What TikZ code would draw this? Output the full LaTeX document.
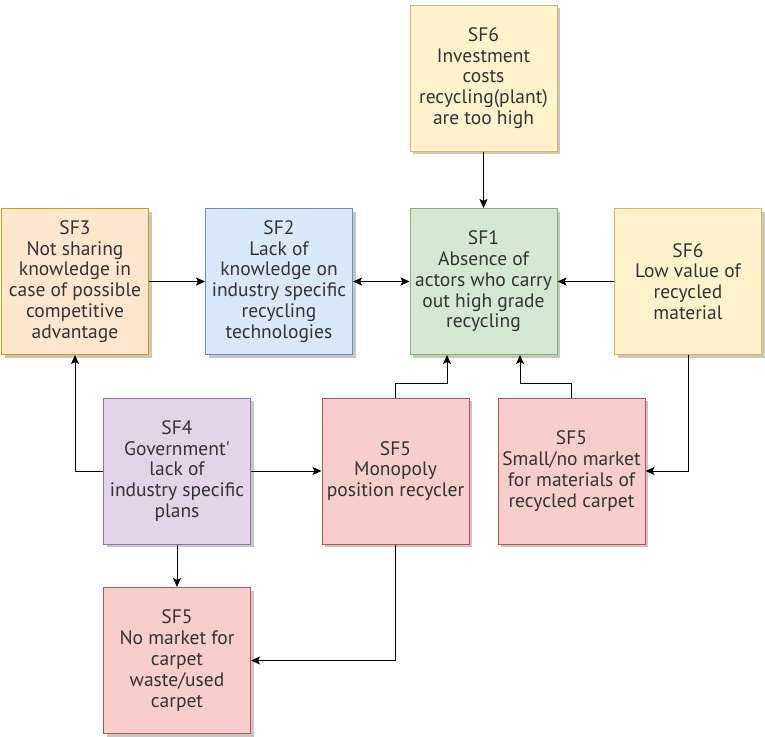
\documentclass[tikz,border=0pt]{standalone}
\usepackage{fontspec}
\setmainfont{PT Sans}[Ligatures=TeXOff]
\usetikzlibrary{arrows.meta,shadows}
\definecolor{yelFill}{HTML}{FFF2CC}\definecolor{yelLine}{HTML}{D6B656}
\definecolor{orFill}{HTML}{FFE6CC}\definecolor{orLine}{HTML}{D79B00}
\definecolor{blFill}{HTML}{DAE8FC}\definecolor{blLine}{HTML}{6C8EBF}
\definecolor{grFill}{HTML}{D5E8D4}\definecolor{grLine}{HTML}{82B366}
\definecolor{puFill}{HTML}{E1D5E7}\definecolor{puLine}{HTML}{9673A6}
\definecolor{reFill}{HTML}{F8CECC}\definecolor{reLine}{HTML}{B85450}
\definecolor{txt}{HTML}{333333}
\begin{document}
\begin{tikzpicture}[x=1pt,y=-1pt,
  box/.style={draw, line width=1pt, minimum width=147pt, minimum height=146pt,
    inner sep=0pt, align=center, text=txt,
    font=\fontsize{19.5}{20.8}\selectfont,
    drop shadow={shadow xshift=3pt, shadow yshift=-3pt, opacity=0.22, fill=black}},
  yelbox/.style={box, fill=yelFill, draw=yelLine},
  orbox/.style={box, fill=orFill, draw=orLine},
  blbox/.style={box, fill=blFill, draw=blLine},
  grbox/.style={box, fill=grFill, draw=grLine},
  pubox/.style={box, fill=puFill, draw=puLine},
  rebox/.style={box, fill=reFill, draw=reLine},
  arr/.style={draw, line width=1pt, -{Stealth[length=9pt,width=8pt,inset=2pt]}},
  arrboth/.style={draw, line width=1pt, {Stealth[length=9pt,width=8pt,inset=2pt]}-{Stealth[length=9pt,width=8pt,inset=2pt]}}
]
\useasboundingbox[fill=white] (0,0) rectangle (765,736);

% boxes
\node[yelbox] (sf6a) at (483.5,78) {SF6\\Investment\\costs\\recycling(plant)\\are too high};
\node[orbox]  (sf3)  at (75,281.5) {SF3\\Not sharing\\knowledge in\\case of possible\\competitive\\advantage};
\node[blbox]  (sf2)  at (279,281.5) {SF2\\Lack of\\knowledge on\\industry specific\\recycling\\technologies};
\node[grbox]  (sf1)  at (483.5,281.5) {SF1\\Absence of\\actors who carry\\out high grade\\recycling};
\node[yelbox] (sf6b) at (688,281.5) {SF6\\Low value of\\recycled\\material};
\node[pubox]  (sf4)  at (177,471) {SF4\\Government'\\lack of\\industry specific\\plans};
\node[rebox]  (sf5a) at (395.5,471) {SF5\\Monopoly\\position recycler};
\node[rebox]  (sf5b) at (571.5,471) {SF5\\Small/no market\\for materials of\\recycled carpet};
\node[rebox]  (sf5c) at (177,660.5) {SF5\\No market for\\carpet\\waste/used\\carpet};

% connectors
\draw[arr] (sf6a) -- (sf1);
\draw[arr] (sf3) -- (sf2);
\draw[arrboth] (sf2) -- (sf1);
\draw[arr] (sf6b) -- (sf1);
\draw[arr] (sf4.west) -| (sf3.south);
\draw[arr] (sf4) -- (sf5a);
\draw[arr] (sf4) -- (sf5c);
\draw[arr] (sf5a.north) -- ++(0,-14) -| ([xshift=-36.5pt]sf1.south);
\draw[arr] (sf5b.north) -- ++(0,-14) -| ([xshift=36.5pt]sf1.south);
\draw[arr] (sf6b.south) |- (sf5b.east);
\draw[arr] (sf5a.south) |- (sf5c.east);
\end{tikzpicture}
\end{document}
